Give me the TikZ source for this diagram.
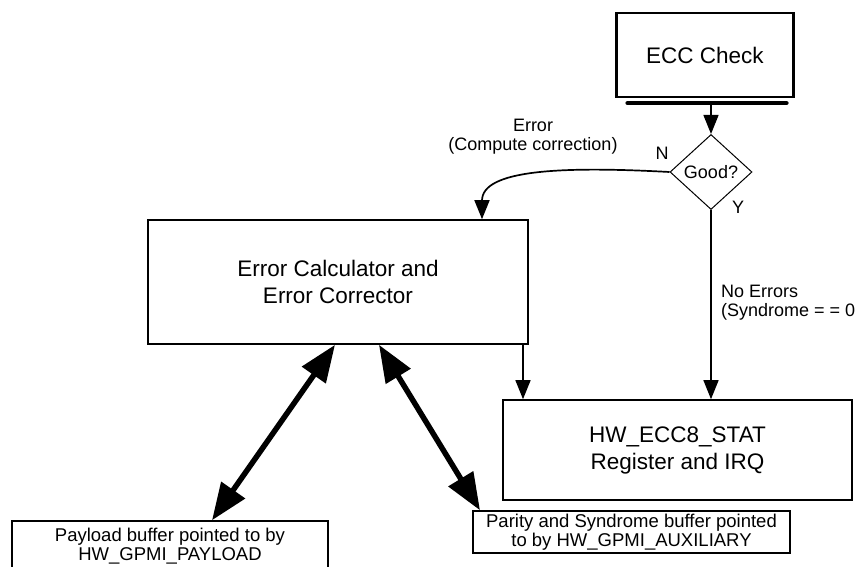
\documentclass[tikz,border=0pt]{standalone}
\usepackage{fontspec}
\setmainfont{Liberation Sans}
\usetikzlibrary{arrows.meta, positioning, shapes.geometric}

\begin{document}
\begin{tikzpicture}[x=1pt, y=-1pt,
    every node/.style={font=\fontsize{18}{19}\selectfont},
    blok/.style={draw, line width=1.6pt, inner sep=0pt, align=center, font=\fontsize{22.5}{27}\selectfont},
    buf/.style={draw, line width=1.4pt, inner sep=0pt, align=center, font=\fontsize{18.5}{18.5}\selectfont},
    seta/.style={line width=1.4pt, -{Triangle[length=19pt, width=15pt]}},
    grossa/.style={line width=5.5pt, {Triangle[length=37pt, width=28pt]}-{Triangle[length=37pt, width=28pt]}}]
  \useasboundingbox (0,0) rectangle (857,567);
  % Blocos
  \node[blok, line width=2.2pt, minimum width=177pt, minimum height=84pt] (ecc) at (705,55) {ECC Check};
  \node[draw, diamond, line width=1pt, inner sep=0pt, minimum width=82pt, minimum height=75pt] (good) at (711,172) {Good?};
  \node[blok, minimum width=380pt, minimum height=124pt] (calc) at (338,282) {Error Calculator and\\Error Corrector};
  \node[blok, minimum width=349pt, minimum height=100pt] (stat) at (677.5,450) {HW\_ECC8\_STAT\\Register and IRQ};
  \node[buf, minimum width=316pt, minimum height=50pt] (payload) at (170,546) {Payload buffer pointed to by\\HW\_GPMI\_PAYLOAD};
  \node[buf, minimum width=317pt, minimum height=42pt] (parity) at (631.5,532) {Parity and Syndrome buffer pointed\\to by HW\_GPMI\_AUXILIARY};
  % Barra sob ECC Check
  \coordinate (barra) at ([yshift=-5pt]ecc.south -| good.north);
  \draw[line width=4pt, line cap=round] ([xshift=12pt, yshift=-5pt]ecc.south west) -- ([xshift=-8pt, yshift=-5pt]ecc.south east);
  % Ligacoes
  \draw[seta] (barra) -- (good.north);
  \draw[seta, line width=1.7pt] (good.west) .. controls (560,166) and (482,170) .. ([xshift=144pt]calc.north);
  \draw[seta] (good.south) -- (good.south |- stat.north);
  \draw[seta] ([xshift=185pt]calc.south) -- ([xshift=185pt]calc.south |- stat.north);
  \draw[grossa] ([xshift=-3pt]calc.south) -- ([xshift=42pt]payload.north);
  \draw[grossa] ([xshift=41pt]calc.south) -- ([xshift=-151.5pt]parity.north);
  % Rotulos
  \node (n) at (662,153) {N};
  \node (y) at (738,207) {Y};
  \node[align=center] (err) at (533,137) {Error\\(Compute correction)};
  \node[align=left, anchor=west, inner sep=0pt] (noerr) at (721,303) {No Errors\\(Syndrome = = 0};
\end{tikzpicture}
\end{document}
